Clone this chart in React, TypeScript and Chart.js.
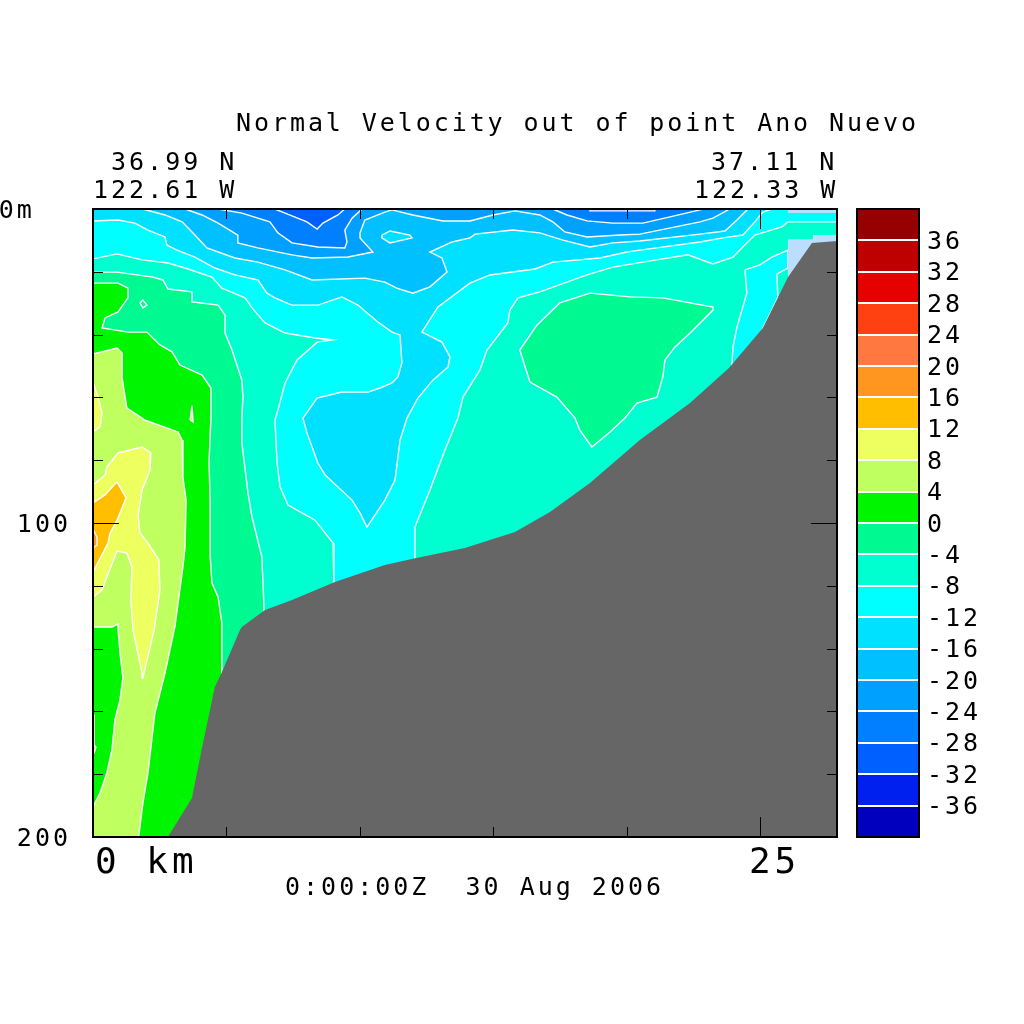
import React, { useEffect, useRef } from "react";
import { Chart, registerables } from "chart.js";

Chart.register(...registerables);

const X_MAX = 27.89;
const Y_MAX = 200;
type P = [number, number];

// Contour bands [km, depth m]; every region is "velocity above the level".
const bandM32: P[] = [[0, 0], [X_MAX, 0], [X_MAX, Y_MAX], [0, Y_MAX]];
const bandM28: P[] = [[0, 0], [6.82, 0], [7.46, 2.2], [8.02, 4.1], [8.4, 6.4], [8.62, 4.5], [9.18, 1.9], [9.44, 0], [18.63, 0], [18.63, 0.6], [21.06, 0.6], [21.06, 0], [X_MAX, 0], [X_MAX, Y_MAX], [0, Y_MAX]];
const bandM24: P[] = [[0, 0], [4.69, 0], [5.58, 1.3], [6.63, 4.1], [6.93, 7.6], [7.46, 10.8], [8.43, 12.1], [9.44, 12.4], [9.52, 10.5], [9.44, 6.7], [9.71, 2.9], [10.01, 0.6], [10.1, 0], [17.24, 0], [17.77, 1.9], [18.52, 3.8], [19.49, 4.5], [20.61, 4.5], [21.63, 2.5], [22.75, 0.3], [22.86, 0], [X_MAX, 0], [X_MAX, Y_MAX], [0, Y_MAX]];
const bandM20: P[] = [[0, 0], [3.45, 0], [4.09, 1.9], [4.69, 4.5], [5.43, 8.3], [5.43, 10.8], [6.18, 12.4], [7.46, 14.6], [8.21, 15.6], [9.56, 15.3], [10.49, 13.7], [10.01, 9.2], [10.01, 7.6], [10.19, 3.5], [10.94, 1], [11.21, 0.3], [11.99, 1.9], [13.12, 3.8], [14.13, 3.8], [14.99, 1.9], [15.82, 0.6], [16.75, 1.9], [17.24, 4.1], [17.69, 7.3], [18.52, 8.9], [19.75, 8.3], [20.5, 8], [22.75, 4.1], [23.24, 2.9], [23.87, 0], [X_MAX, 0], [X_MAX, Y_MAX], [0, Y_MAX]];
const bandM16: P[] = [[0, 0], [1.87, 0], [2.7, 1.9], [3.34, 4.1], [3.82, 8.3], [4.27, 12.4], [5.32, 15.6], [6.18, 16.9], [7.2, 19.4], [8.21, 22.6], [10.19, 22], [10.94, 23.3], [11.39, 25.2], [11.99, 26.8], [12.63, 24.8], [13.27, 20.1], [13.08, 15.6], [12.63, 13.7], [13.46, 10.5], [14.13, 9.2], [14.32, 8], [15.74, 6.7], [16.75, 7.6], [17.62, 9.9], [18.63, 12.1], [19.49, 10.8], [20.5, 10.2], [22.75, 8], [23.69, 7], [24.14, 3.5], [24.55, 0], [X_MAX, 0], [X_MAX, Y_MAX], [0, Y_MAX]];
const bandM12: P[] = [[0, 3.8], [0.94, 3.5], [1.57, 4.5], [2.06, 6.7], [2.7, 8.9], [2.77, 11.5], [3.15, 13.1], [3.82, 15.3], [4.57, 18.8], [5.32, 21], [6.18, 22.6], [6.52, 26.8], [6.82, 28.3], [7.46, 30.6], [8.43, 30.6], [9.33, 28], [9.93, 30.6], [10.68, 36], [11.21, 39.2], [11.51, 40.1], [11.58, 49], [11.43, 53.5], [11.21, 55.4], [10.76, 57], [10.31, 58.3], [9.33, 58.3], [8.4, 60.2], [7.87, 66.6], [8.02, 71.3], [8.43, 80.9], [8.7, 84.7], [9.71, 92.7], [10.01, 96.8], [10.27, 101.3], [10.94, 92.7], [11.32, 86.3], [11.51, 73.6], [11.77, 66.6], [12.18, 60.2], [12.74, 54.5], [13.31, 50.3], [13.38, 47.1], [13.08, 42.4], [12.33, 39.2], [12.93, 31.2], [14.13, 23.6], [14.88, 21], [16.57, 19.1], [17.24, 16.9], [19, 15.6], [20.01, 13.7], [20.5, 13.1], [22.75, 10.5], [23.61, 9.2], [24.36, 8.3], [24.81, 4.1], [25.11, 1], [25.45, 0], [X_MAX, 0], [X_MAX, Y_MAX], [0, Y_MAX]];
const bandM8: P[] = [[0, 15.9], [0.9, 14.3], [1.84, 16.2], [2.81, 17.2], [3.45, 18.8], [4.46, 21.7], [4.83, 25.2], [5.7, 28.3], [5.96, 31.5], [6.45, 36.3], [7.2, 39.5], [8.32, 41.1], [9, 41.7], [8.4, 42.4], [7.65, 48.1], [7.2, 55.4], [6.9, 65], [6.82, 67.2], [6.9, 80.9], [7.01, 88.5], [7.31, 94.3], [8.32, 99.1], [9, 106.4], [9.03, 119.1], [9.26, 130.9], [12.07, 130.9], [12.07, 111.2], [12.07, 101.3], [12.63, 89.5], [13.19, 76.8], [13.68, 66.6], [13.87, 59.9], [14.5, 51.3], [14.77, 44.9], [15.55, 36.3], [15.63, 32.2], [15.93, 28.3], [16.75, 26.4], [18.52, 21], [19.49, 18.5], [20.61, 16.9], [22.3, 14.6], [23.24, 17.5], [23.99, 15.3], [24.36, 12.1], [24.81, 8.3], [25.82, 5.7], [26.05, 4.1], [X_MAX, 4.1], [X_MAX, Y_MAX], [0, Y_MAX]];
const bandM4: P[] = [[0, 20.1], [0.9, 20.1], [2.25, 21.7], [2.62, 22.6], [2.81, 25.5], [3.71, 26.4], [3.71, 29.6], [4.69, 30.6], [4.95, 33.8], [4.95, 39.5], [5.21, 44.9], [5.58, 54.5], [5.62, 59.9], [5.58, 66.6], [5.58, 74.5], [5.81, 90.5], [5.96, 98.1], [6.33, 110.8], [6.41, 126.8], [6.41, Y_MAX], [0, Y_MAX]];
const band0: P[] = [[0, 23.6], [0.94, 23.6], [1.31, 25.2], [1.31, 28.3], [0.94, 32.8], [0.45, 34.7], [0.34, 37.9], [1.31, 39.2], [2.02, 39.2], [2.51, 43.3], [2.96, 45.5], [3.26, 49.7], [4.09, 52.9], [4.42, 57], [4.42, 66.6], [4.35, 80.6], [4.39, 92.7], [4.39, 110.2], [4.46, 119.1], [4.69, 123.6], [4.83, 131.9], [4.83, Y_MAX], [0, Y_MAX]];
const band4: P[] = [[0, 46.2], [0.9, 44.3], [1.09, 45.9], [1.09, 53.8], [1.27, 63.4], [1.84, 66.6], [1.93, 67.2], [3.19, 71], [3.34, 73.6], [3.37, 85.4], [3.49, 92.7], [3.45, 107.7], [3.37, 114], [3.07, 133.1], [3.04, 134.1], [2.7, 147.8], [2.32, 160.5], [2.06, 179.6], [1.87, 189.2], [1.72, 199.4], [1.72, Y_MAX], [0, Y_MAX], [0, 190.5], [0.26, 186], [0.52, 179.6], [0.71, 172.3], [0.82, 162.8], [1.01, 156.4], [1.12, 149.4], [1.01, 141.1], [0.94, 134.1], [0.94, 132.2], [0.71, 133.1], [0, 133.1]];
const band4Spike: P[] = [[3.64, 67.2], [3.71, 62.7], [3.75, 67.8]];
const band4Sliver: P[] = [[0, 161.2], [0.04, 161.2], [0.04, 170.7], [0.11, 171.4], [0.04, 173.3], [0, 173.3]];
const band8Left: P[] = [[0, 55.1], [0.19, 59.9], [0.34, 65], [0.26, 69.4], [0, 71]];
const band8: P[] = [[0, 87.9], [0.45, 84.7], [0.52, 82.2], [0.94, 77.7], [1.84, 75.8], [2.17, 77.7], [2.14, 83.1], [1.84, 89.5], [1.69, 97.5], [1.76, 103.2], [2.06, 106.4], [2.47, 111.8], [2.51, 121.3], [2.29, 134.1], [1.87, 149.4], [1.84, 147.8], [1.5, 134.1], [1.42, 124.5], [1.46, 114], [1.27, 109.6], [0.9, 108.9], [0.52, 117.2], [0.34, 121.3], [0, 123.6]];
const band12: P[] = [[0, 93.6], [0.45, 91.1], [0.9, 86.9], [1.24, 92], [0.9, 99.1], [0.64, 103.2], [0.56, 106.4], [0, 115.6]];
const band16: P[] = [[0, 101.9], [0.15, 104.5], [0.15, 107], [0, 108]];
const pocketM4: P[] = [[16, 44.9], [16.64, 37], [17.5, 29.9], [18.63, 26.8], [20.13, 28], [21.36, 28.3], [23.24, 31.2], [23.24, 32.2], [22.38, 39.5], [21.81, 44], [21.44, 48.1], [21.36, 53.5], [21.14, 59.9], [20.39, 61.8], [19.94, 66.6], [19.38, 71], [18.7, 75.8], [18.25, 70.4], [18.07, 66.6], [17.39, 59.9], [16.38, 55.1]];
const pocketTop: P[] = [[10.83, 8.3], [11.13, 7], [11.88, 8.3], [11.96, 9.2], [11.13, 10.8], [10.83, 9.2]];
const pocketGreen: P[] = [[1.76, 29.9], [1.87, 29], [2.02, 30.6], [1.87, 31.5]];
const stripCoast: P[] = [[26.05, 13.1], [25.45, 15.3], [25, 17.8], [24.44, 19.4], [24.51, 26.8], [24.14, 37.6], [23.99, 44], [23.95, 49.7], [24.44, 49.7], [25.67, 28.3], [25.64, 20.7], [26.05, 18.8]];
const undefinedTop: P[] = [[26.05, 0], [X_MAX, 0], [X_MAX, 1.3], [26.05, 1.3]];
const undefinedShelf: P[] = [[26.05, 9.6], [26.99, 9.6], [26.99, 8.3], [X_MAX, 8.3], [X_MAX, 11.5], [26.05, 22.6]];
const bathymetry: P[] = [[2.81, Y_MAX], [3.71, 187.6], [4.09, 171.4], [4.57, 152.2], [4.83, 147.5], [5.51, 134.1], [5.58, 133.1], [6.45, 127.7], [7.46, 124.5], [9.07, 118.8], [10.94, 113.4], [12.07, 111.2], [13.94, 108], [15.82, 102.9], [17.13, 96.5], [18.63, 87.3], [20.5, 73.6], [22.38, 61.8], [23.84, 50.6], [25.11, 37.9], [26.05, 21.7], [26.95, 10.8], [X_MAX, 10.2], [X_MAX, Y_MAX]];

const barLevels = [-40, -36, -32, -28, -24, -20, -16, -12, -8, -4, 0, 4, 8, 12, 16, 20, 24, 28, 32, 36, 40];
const barColors = ["#0000be", "#0020f0", "#0060ff", "#0080ff", "#00a0ff", "#00c0ff", "#00e0ff", "#00ffff", "#00ffd0", "#00fa92", "#00f500", "#c0ff60", "#eeff60", "#ffbe00", "#ff9620", "#ff7840", "#ff4010", "#e60000", "#be0000", "#960000"];
const levelColor = (lo: number) => barColors[barLevels.indexOf(lo)];

const yMajorTicks = [20, 40, 60, 80, 100, 120, 140, 160, 180];
const xMajorTicks = [5, 10, 15, 20, 25];
const yTickText: Record<number, string> = { 0: "0m  ", 100: "100", 200: "200" };
const titleText = "Normal Velocity out of point Ano Nuevo";
const leftLat = "36.99 N";
const leftLon = "122.61 W";
const rightLat = "37.11 N";
const rightLon = "122.33 W";
const timeText = "0:00:00Z  30 Aug 2006";
const xStartLabel = "0 km";
const xEndLabel = "25";

const FONT = '"DejaVu Sans Mono"';
const LINE = "#ffffff";
const GREY = "#666666";
const PALE = "#bbddff";

type Layer = { pts: P[]; color: string; line: boolean };
const layers: Layer[] = [
  { pts: bandM32, color: levelColor(-32), line: false },
  { pts: bandM28, color: levelColor(-28), line: true },
  { pts: bandM24, color: levelColor(-24), line: true },
  { pts: bandM20, color: levelColor(-20), line: true },
  { pts: bandM16, color: levelColor(-16), line: true },
  { pts: pocketTop, color: levelColor(-16), line: true },
  { pts: bandM12, color: levelColor(-12), line: true },
  { pts: bandM8, color: levelColor(-8), line: true },
  { pts: stripCoast, color: levelColor(-12), line: true },
  { pts: bandM4, color: levelColor(-4), line: true },
  { pts: pocketM4, color: levelColor(-4), line: true },
  { pts: pocketGreen, color: levelColor(-4), line: true },
  { pts: band0, color: levelColor(0), line: true },
  { pts: band4, color: levelColor(4), line: true },
  { pts: band4Spike, color: levelColor(4), line: true },
  { pts: band4Sliver, color: levelColor(4), line: true },
  { pts: band8Left, color: levelColor(8), line: true },
  { pts: band8, color: levelColor(8), line: true },
  { pts: band12, color: levelColor(12), line: true },
  { pts: band16, color: levelColor(16), line: true },
  { pts: undefinedTop, color: PALE, line: false },
  { pts: undefinedShelf, color: PALE, line: false },
  { pts: bathymetry, color: GREY, line: false },
];

const spacing = {
  id: "spacing",
  beforeDraw(chart: any) {
    chart.ctx.letterSpacing = "3px";
  },
};

const decorate = {
  id: "decorate",
  afterDraw(chart: any) {
    const { ctx, chartArea: a, scales } = chart;
    const x = scales.x;
    const y = scales.y;
    ctx.save();
    ctx.fillStyle = "#000";
    for (const v of xMajorTicks) {
      const p = Math.round(x.getPixelForValue(v));
      const len = v === 25 ? 20 : 10;
      ctx.fillRect(p, a.top, 1, len);
      ctx.fillRect(p, a.bottom - len, 1, len);
    }
    for (const v of yMajorTicks) {
      const p = Math.round(y.getPixelForValue(v));
      const len = v === 100 ? 26 : 10;
      ctx.fillRect(a.left, p, len, 1);
      ctx.fillRect(a.right - len, p, len, 1);
    }
    ctx.strokeStyle = "#000";
    ctx.lineWidth = 2;
    ctx.strokeRect(a.left, a.top, a.right - a.left, a.bottom - a.top);
    ctx.textBaseline = "middle";
    ctx.textAlign = "left";
    ctx.font = `25px ${FONT}`;
    ctx.letterSpacing = "2.92px";
    ctx.fillText(titleText, 236, 124);
    ctx.letterSpacing = "3px";
    ctx.fillText(leftLat, 111, 163);
    ctx.fillText(leftLon, 93, 191);
    ctx.fillText(rightLat, 711, 163);
    ctx.fillText(rightLon, 694, 191);
    ctx.fillText(timeText, 285, 888);
    ctx.font = `36px ${FONT}`;
    ctx.letterSpacing = "4px";
    ctx.fillText(xStartLabel, x.getPixelForValue(0) + 2, 864);
    ctx.fillText(xEndLabel, x.getPixelForValue(25) - 11, 864);
    ctx.restore();
  },
};

const barFrame = {
  id: "barFrame",
  afterDraw(chart: any) {
    const { ctx, chartArea: a } = chart;
    ctx.save();
    ctx.strokeStyle = "#000";
    ctx.lineWidth = 2;
    ctx.strokeRect(a.left, a.top, a.right - a.left, a.bottom - a.top);
    ctx.restore();
  },
};

export default function App() {
  const mainRef = useRef<HTMLCanvasElement>(null);
  const barRef = useRef<HTMLCanvasElement>(null);

  useEffect(() => {
    const main = new Chart(mainRef.current!, {
      type: "scatter",
      data: {
        datasets: layers.map((l, i) => ({
          data: [...l.pts, l.pts[0]].map(([x, y]) => ({ x, y })),
          showLine: true,
          fill: "shape" as any,
          backgroundColor: l.color,
          borderColor: l.line ? LINE : l.color,
          borderWidth: l.line ? 1.4 : 0,
          pointRadius: 0,
          tension: 0,
          order: layers.length - i,
        })),
      },
      options: {
        responsive: false,
        animation: false,
        devicePixelRatio: 1,
        layout: { autoPadding: false, padding: { left: 0, right: 187, top: 209, bottom: 127 } },
        plugins: { legend: { display: false }, tooltip: { enabled: false }, title: { display: false } },
        scales: {
          x: {
            type: "linear",
            min: 0,
            max: X_MAX,
            grid: { display: false },
            border: { display: false },
            ticks: { display: false },
            afterFit: (s: any) => { s.height = 60; },
          },
          y: {
            type: "linear",
            reverse: true,
            min: 0,
            max: Y_MAX,
            grid: { display: false, drawTicks: false },
            border: { display: false },
            ticks: {
              stepSize: 100,
              color: "#000",
              padding: 22,
              labelOffset: 2,
              font: { family: FONT, size: 25 },
              callback: (v: any) => yTickText[v] ?? "",
            },
            afterFit: (s: any) => { s.width = 93; },
          },
        },
      },
      plugins: [spacing, decorate],
    } as any);

    const bar = new Chart(barRef.current!, {
      type: "bar",
      data: {
        labels: ["velocity"],
        datasets: barColors.map((c, i) => ({
          data: [[barLevels[i], barLevels[i + 1]]],
          backgroundColor: c,
          borderWidth: 0,
          grouped: false,
          barPercentage: 1,
          categoryPercentage: 1,
        })),
      },
      options: {
        responsive: false,
        animation: false,
        devicePixelRatio: 1,
        layout: { autoPadding: false, padding: { left: 17, right: 0, top: 30, bottom: 30 } },
        plugins: { legend: { display: false }, tooltip: { enabled: false } },
        scales: {
          x: { display: false },
          y: {
            position: "right",
            min: -40,
            max: 40,
            grid: { color: "#fff", lineWidth: 2, z: 1, drawTicks: false },
            border: { display: false },
            ticks: {
              stepSize: 4,
              autoSkip: false,
              color: "#000",
              padding: 8,
              labelOffset: 2,
              font: { family: FONT, size: 25 },
              callback: (v: any) => (Math.abs(v) === 40 ? "" : String(v)),
            },
            afterFit: (s: any) => { s.width = 105; },
          },
        },
      },
      plugins: [spacing, barFrame],
    } as any);

    return () => {
      main.destroy();
      bar.destroy();
    };
  }, []);

  return (
    <div style={{ position: "absolute", left: 0, top: 0, width: 1024, height: 1024, background: "#fff", overflow: "hidden" }}>
      <canvas ref={mainRef} width={1024} height={1024} style={{ position: "absolute", left: 0, top: 0 }} />
      <canvas ref={barRef} width={184} height={688} style={{ position: "absolute", left: 840, top: 179 }} />
    </div>
  );
}
